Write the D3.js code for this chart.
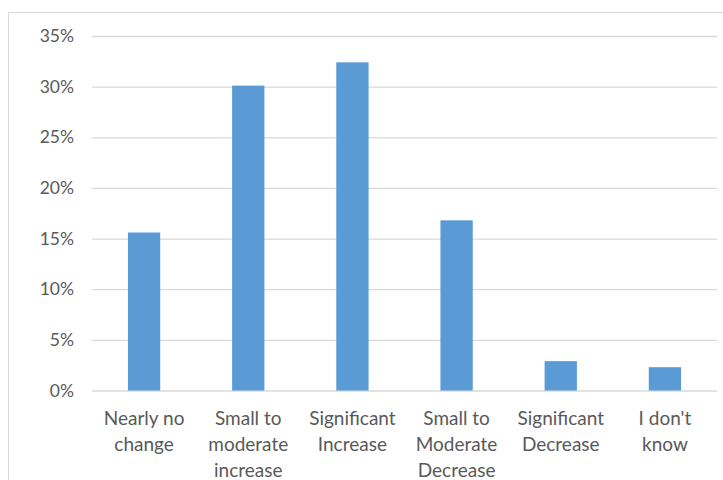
<!DOCTYPE html>
<html>
<head>
<meta charset="utf-8">
<script src="https://cdn.jsdelivr.net/npm/d3@7"></script>
<style>
  html, body { margin: 0; padding: 0; background: #fff; }
  svg { display: block; }
</style>
</head>
<body>
<svg id="chart" width="723" height="480"></svg>
<script>
// Survey responses: share of respondents per answer
const categories = [
  ["Nearly no", "change"],
  ["Small to", "moderate", "increase"],
  ["Significant", "Increase"],
  ["Small to", "Moderate", "Decrease"],
  ["Significant", "Decrease"],
  ["I don't", "know"]
];
const shares = [0.156, 0.301, 0.324, 0.168, 0.029, 0.023];
const yTicks = [0, 0.05, 0.10, 0.15, 0.20, 0.25, 0.30, 0.35];

const svg = d3.select("#chart");
const plot = { left: 92, right: 717, top: 36, bottom: 390.5 };
const font = "Lato, 'Open Sans', sans-serif";
const textColor = "#595959";

// chart area frame
svg.append("rect")
  .attr("x", 8.5).attr("y", 12.5)
  .attr("width", 740).attr("height", 500)
  .attr("fill", "#fff")
  .attr("stroke", "#d9d9d9").attr("stroke-width", 1);

const x = d3.scaleBand()
  .domain(d3.range(categories.length))
  .range([plot.left, plot.right])
  .padding(0);

const y = d3.scaleLinear().domain([0, 0.35]).range([plot.bottom, plot.top]);

// horizontal gridlines and percent labels
const yAxis = d3.axisLeft(y)
  .tickValues(yTicks)
  .tickFormat(d3.format(".0%"))
  .tickSize(-(plot.right - plot.left))
  .tickPadding(18);

const gy = svg.append("g")
  .attr("transform", `translate(${plot.left},0)`)
  .call(yAxis);
gy.select(".domain").remove();
gy.selectAll(".tick line").attr("stroke", "#d9d9d9").attr("stroke-width", 1.3);
gy.selectAll(".tick text")
  .attr("fill", textColor)
  .attr("font-family", font)
  .attr("font-size", 17.5);

// bars
const barW = x.bandwidth() * 0.31;
svg.append("g").selectAll("rect")
  .data(shares)
  .join("rect")
  .attr("x", (d, i) => x(i) + (x.bandwidth() - barW) / 2)
  .attr("y", d => y(d))
  .attr("width", barW)
  .attr("height", d => y(0) - y(d))
  .attr("fill", "#5b9bd5");

// category labels, wrapped onto lines
const gx = svg.append("g");
categories.forEach((lines, i) => {
  const cx = x(i) + x.bandwidth() / 2;
  const t = gx.append("text")
    .attr("text-anchor", "middle")
    .attr("fill", textColor)
    .attr("font-family", font)
    .attr("font-size", 19);
  lines.forEach((ln, k) => {
    t.append("tspan")
      .attr("x", cx)
      .attr("y", 425 + k * 26)
      .text(ln);
  });
});
</script>
</body>
</html>
